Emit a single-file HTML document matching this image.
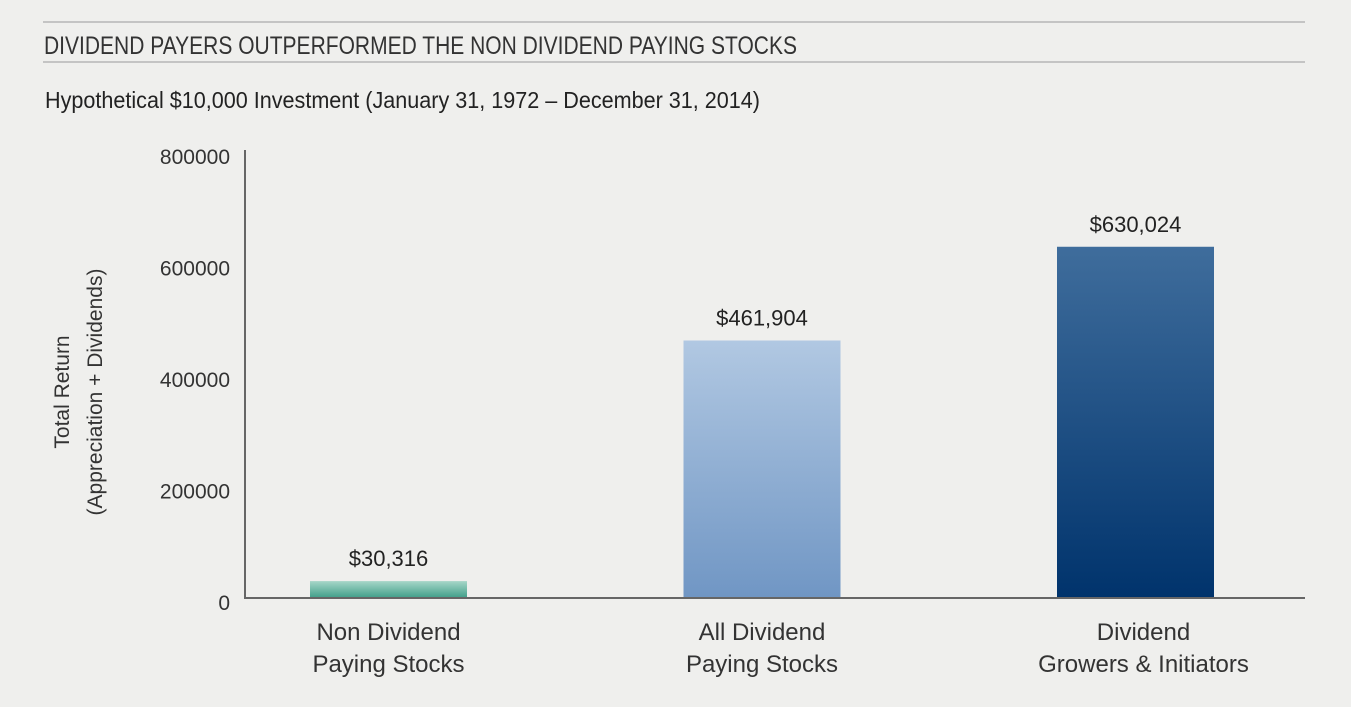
<!DOCTYPE html>
<html><head><meta charset="utf-8"><style>
html,body{margin:0;padding:0;background:#efefed;}
body{width:1351px;height:707px;overflow:hidden;font-family:"Liberation Sans Narrow","Liberation Sans",sans-serif;color:#222;}
</style></head><body>
<svg width="1351" height="707" style="position:absolute;left:0;top:0">
<defs>
<linearGradient id="g1" x1="0" y1="0" x2="0" y2="1"><stop offset="0" stop-color="#a6d6c8"/><stop offset="1" stop-color="#3f9e88"/></linearGradient>
<linearGradient id="g2" x1="0" y1="0" x2="0" y2="1"><stop offset="0" stop-color="#b1c8e2"/><stop offset="1" stop-color="#7096c4"/></linearGradient>
<linearGradient id="g3" x1="0" y1="0" x2="0" y2="1"><stop offset="0" stop-color="#3f6d9c"/><stop offset="1" stop-color="#00336c"/></linearGradient>
</defs>
<line x1="43" y1="22" x2="1305" y2="22" stroke="#c4c4c4" stroke-width="2"/>
<text x="44" y="54" font-size="25" fill="#333" textLength="753" lengthAdjust="spacingAndGlyphs">DIVIDEND PAYERS OUTPERFORMED THE NON DIVIDEND PAYING STOCKS</text>
<line x1="43" y1="62" x2="1305" y2="62" stroke="#c4c4c4" stroke-width="2"/>
<text x="45" y="108" font-size="23" fill="#222" textLength="715" lengthAdjust="spacingAndGlyphs">Hypothetical $10,000 Investment (January 31, 1972 – December 31, 2014)</text>
<text transform="translate(69,392) rotate(-90)" text-anchor="middle" font-size="21" fill="#333"><tspan x="0" dy="0">Total Return</tspan><tspan x="0" dy="33">(Appreciation + Dividends)</tspan></text>
<g id="ticks"></g>
<g id="bars"></g>
<line x1="245" y1="150" x2="245" y2="598" stroke="#666" stroke-width="2"/>
<line x1="244" y1="598" x2="1305" y2="598" stroke="#666" stroke-width="2"/>
</svg>
<script>
const categories=[["Non Dividend","Paying Stocks"],["All Dividend","Paying Stocks"],["Dividend","Growers & Initiators"]];
const values=[30316,461904,630024];
const valueLabels=["$30,316","$461,904","$630,024"];
const tickValues=[0,200000,400000,600000,800000];
const fills=["url(#g1)","url(#g2)","url(#g3)"];
const NS="http://www.w3.org/2000/svg";
const y0=598,yTop=152,vmax=800000;
function yScale(v){return y0-(v/vmax)*(y0-yTop);}
function xCenter(i){return 388.5+i*373.5;}
const bw=157;
const tg=document.getElementById('ticks'),bg=document.getElementById('bars');
tickValues.forEach(function(t){
 const e=document.createElementNS(NS,'text');
 
 
 e.setAttribute('x',230);e.setAttribute('y',yScale(t)+12);
 e.setAttribute('text-anchor','end');e.setAttribute('font-size','21');e.setAttribute('fill','#333');
 e.textContent=String(t);tg.appendChild(e);
});
values.forEach(function(v,i){
 const r=document.createElementNS(NS,'rect');
 
 
 r.setAttribute('x',xCenter(i)-bw/2);r.setAttribute('y',yScale(v));
 r.setAttribute('width',bw);r.setAttribute('height',y0-yScale(v));
 r.setAttribute('fill',fills[i]);bg.appendChild(r);
 const l=document.createElementNS(NS,'text');
 
 
 l.setAttribute('x',xCenter(i));l.setAttribute('y',yScale(v)-15);
 l.setAttribute('text-anchor','middle');l.setAttribute('font-size','22');l.setAttribute('fill','#222');
 l.textContent=valueLabels[i];bg.appendChild(l);
 categories[i].forEach(function(line,j){
  const c=document.createElementNS(NS,'text');
  
  
  c.setAttribute('x',xCenter(i)+(i==2?8:0));c.setAttribute('y',640+j*32);
  c.setAttribute('text-anchor','middle');c.setAttribute('font-size','24');c.setAttribute('fill','#333');
  c.textContent=line;bg.appendChild(c);
 });
});
</script>
</body></html>
